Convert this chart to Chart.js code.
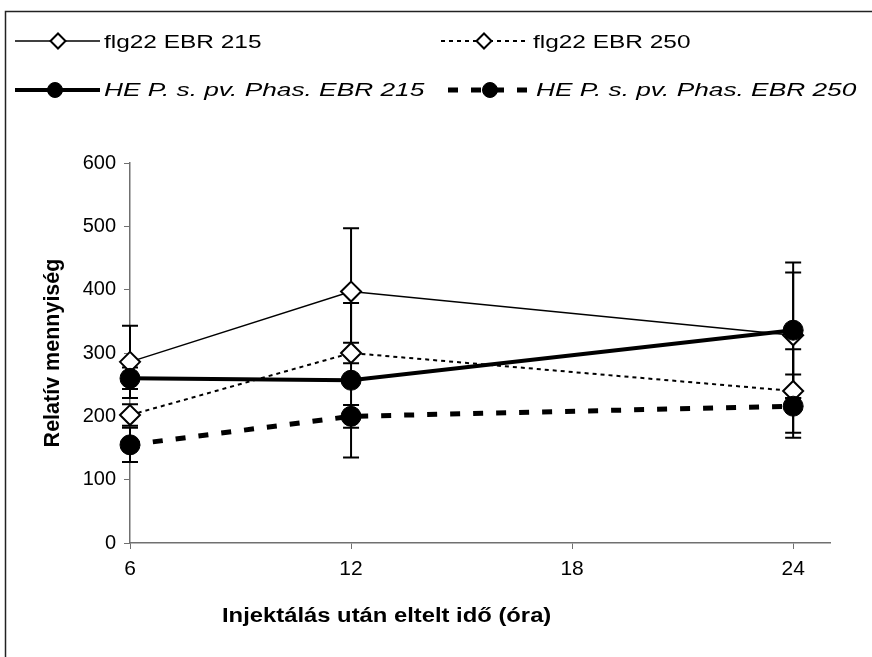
<!DOCTYPE html>
<html>
<head>
<meta charset="utf-8">
<script src="https://cdn.jsdelivr.net/npm/chart.js@4"></script>
<style>
  html, body { margin: 0; padding: 0; background: #fff; }
  #wrap { width: 872px; height: 657px; }
</style>
</head>
<body>
<div id="wrap"><canvas id="chart" width="872" height="657"></canvas></div>
<script>
// hours after injection
const hours = [6, 12, 24];
const xTicks = [6, 12, 18, 24];

// relative amounts + error bar half-widths
const flg215 = [286, 397, 328];
const flg215Err = [57, 100, 99];
const flg250 = [202, 300, 240];
const flg250Err = [17, 16, 66];
const he215 = [260, 257, 336];
const he215Err = [17, 122, 107];
const he250 = [155, 200, 216];
const he250Err = [27, 18, 50];

const FONT = "'Liberation Sans', Arial, sans-serif";
const AXIS = "#707070";

Chart.defaults.font.family = FONT;
Chart.defaults.color = "#000";

const toPts = vals => hours.map((h, i) => ({ x: h, y: vals[i] }));

// frame round the whole chart
const framePlugin = {
    id: "frame",
    beforeDraw(chart) {
        const ctx = chart.ctx;
        ctx.save();
        ctx.fillStyle = "#fff";
        ctx.fillRect(0, 0, chart.width, chart.height);
        ctx.strokeStyle = "#222";
        ctx.lineWidth = 1.5;
        ctx.strokeRect(5.5, 11.5, 1000, 1000);
        ctx.restore();
    }
};

// vertical error bars with caps, drawn under the markers
const errorBarPlugin = {
    id: "errorBars",
    beforeDatasetsDraw(chart) {
        const ctx = chart.ctx;
        const xs = chart.scales.x, ys = chart.scales.y;
        ctx.save();
        ctx.strokeStyle = "#000";
        ctx.lineWidth = 2;
        chart.data.datasets.forEach(ds => {
            ds.data.forEach((p, i) => {
                const e = ds.errors[i];
                const x = xs.getPixelForValue(p.x);
                const top = ys.getPixelForValue(p.y + e);
                const bot = ys.getPixelForValue(p.y - e);
                ctx.beginPath();
                ctx.moveTo(x, top); ctx.lineTo(x, bot);
                ctx.moveTo(x - 8, top); ctx.lineTo(x + 8, top);
                ctx.moveTo(x - 8, bot); ctx.lineTo(x + 8, bot);
                ctx.stroke();
            });
        });
        ctx.restore();
    }
};

// legend in two rows, text stretched like the original
const legendSlots = [
    { x0: 15, x1: 100, mx: 58, tx: 104, ly: 41, by: 48, italic: false },
    { x0: 441, x1: 526, mx: 484, tx: 533, ly: 41, by: 48, italic: false },
    { x0: 15, x1: 100, mx: 55, tx: 104, ly: 90, by: 96, italic: true },
    { x0: 448, x1: 533, mx: 490, tx: 536, ly: 90, by: 96, italic: true }
];

const legendPlugin = {
    id: "twoRowLegend",
    afterDraw(chart) {
        const ctx = chart.ctx;
        chart.data.datasets.forEach((ds, i) => {
            const s = legendSlots[i];
            ctx.save();
            ctx.strokeStyle = ds.borderColor;
            ctx.lineWidth = ds.borderWidth;
            ctx.setLineDash(ds.borderDash || []);
            ctx.beginPath();
            ctx.moveTo(s.x0, s.ly);
            ctx.lineTo(s.x1, s.ly);
            ctx.stroke();
            ctx.setLineDash([]);
            ctx.fillStyle = ds.pointBackgroundColor;
            ctx.strokeStyle = ds.pointBorderColor;
            ctx.lineWidth = ds.pointBorderWidth;
            Chart.helpers.drawPoint(ctx, { pointStyle: ds.pointStyle, radius: 7.5, borderWidth: ds.pointBorderWidth }, s.mx, s.ly);
            ctx.font = (s.italic ? "italic " : "") + "18.5px " + FONT;
            ctx.fillStyle = "#000";
            ctx.textBaseline = "alphabetic";
            ctx.translate(s.tx, s.by);
            ctx.scale(s.italic ? 1.42 : 1.32, 1);
            ctx.fillText(ds.label, 0, 0);
            ctx.restore();
        });
    }
};

// x axis title, placed as in the original (left of centre)
const xTitlePlugin = {
    id: "xTitle",
    afterDraw(chart) {
        const ctx = chart.ctx;
        ctx.save();
        ctx.font = "bold 20px " + FONT;
        ctx.fillStyle = "#000";
        ctx.textBaseline = "alphabetic";
        ctx.translate(222, 622);
        ctx.scale(1.19, 1);
        ctx.fillText("Injektálás után eltelt idő (óra)", 0, 0);
        ctx.restore();
    }
};

new Chart(document.getElementById("chart"), {
    type: "line",
    data: {
        datasets: [
            {
                label: "flg22 EBR 215",
                data: toPts(flg215),
                errors: flg215Err,
                borderColor: "#000",
                borderWidth: 1.5,
                pointStyle: "rectRot",
                pointRadius: 10,
                pointBackgroundColor: "#fff",
                pointBorderColor: "#000",
                pointBorderWidth: 2,
                clip: false,
                order: 3
            },
            {
                label: "flg22 EBR 250",
                data: toPts(flg250),
                errors: flg250Err,
                borderColor: "#000",
                borderWidth: 2,
                borderDash: [4, 4],
                pointStyle: "rectRot",
                pointRadius: 10,
                pointBackgroundColor: "#fff",
                pointBorderColor: "#000",
                pointBorderWidth: 2,
                clip: false,
                order: 2
            },
            {
                label: "HE P. s. pv. Phas. EBR 215",
                data: toPts(he215),
                errors: he215Err,
                borderColor: "#000",
                borderWidth: 4,
                pointStyle: "circle",
                pointRadius: 10,
                pointBackgroundColor: "#000",
                pointBorderColor: "#000",
                pointBorderWidth: 1,
                clip: false,
                order: 1
            },
            {
                label: "HE P. s. pv. Phas. EBR 250",
                data: toPts(he250),
                errors: he250Err,
                borderColor: "#000",
                borderWidth: 5,
                borderDash: [10, 13],
                pointStyle: "circle",
                pointRadius: 10,
                pointBackgroundColor: "#000",
                pointBorderColor: "#000",
                pointBorderWidth: 1,
                clip: false,
                order: 0
            }
        ]
    },
    options: {
        responsive: false,
        animation: false,
        layout: { padding: { top: 163, right: 42, left: 0, bottom: 0 } },
        plugins: {
            legend: { display: false },
            tooltip: { enabled: false }
        },
        scales: {
            x: {
                type: "linear",
                min: 6,
                max: 25,
                afterBuildTicks(scale) {
                    scale.ticks = xTicks.map(v => ({ value: v }));
                },
                ticks: { color: "#000", font: { size: 21 }, padding: 8, maxRotation: 0 },
                grid: { drawOnChartArea: false, tickLength: 6, color: AXIS },
                border: { color: AXIS, width: 1.5 },
                afterFit(scale) { scale.height = 114; }
            },
            y: {
                min: 0,
                max: 600,
                ticks: { stepSize: 100, color: "#000", font: { size: 20 }, padding: 8 },
                grid: { drawOnChartArea: false, tickLength: 6, color: AXIS },
                border: { color: AXIS, width: 1.5 },
                title: {
                    display: true,
                    text: "Relatív mennyiség",
                    color: "#000",
                    font: { size: 21.5, weight: "bold" },
                    padding: { top: 40, bottom: 0 }
                },
                afterFit(scale) { scale.width = 130; }
            }
        }
    },
    plugins: [framePlugin, errorBarPlugin, legendPlugin, xTitlePlugin]
});
</script>
</body>
</html>
